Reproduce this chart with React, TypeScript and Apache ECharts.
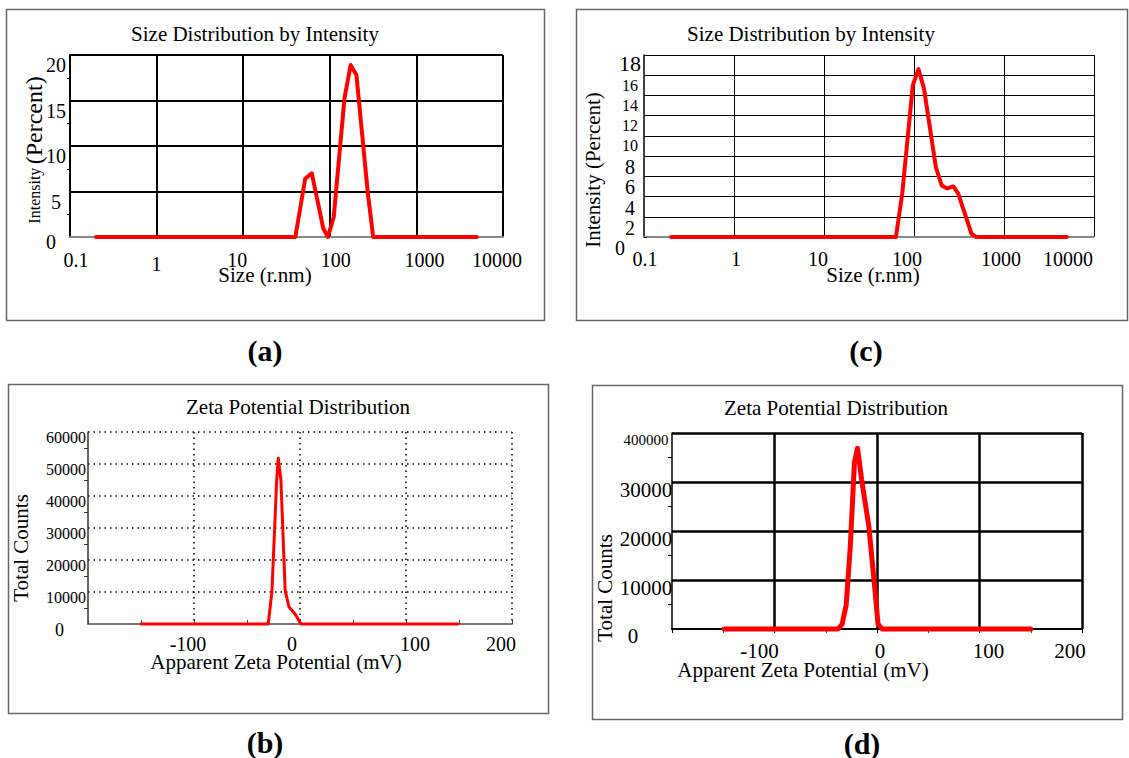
import React, { useEffect, useRef } from "react";
import * as echarts from "echarts";

// ---- data ----
const sizeTickLabels = ["0.1", "1", "10", "100", "1000", "10000"];

const sizeA_x = [0.2, 40, 52, 62, 84, 95, 111, 148, 174, 203, 275, 317, 5000];
const sizeA_y = [0, 0, 6.4, 7.0, 0.95, 0, 2.2, 15.3, 18.9, 17.8, 4.8, 0, 0];
const sizeAYTicks = ["0", "5", "10", "15", "20"];

const sizeC_x = [0.2, 63, 74, 97, 112, 129, 175, 203, 234, 274, 310, 436, 489, 5000];
const sizeC_y = [0, 0, 4.3, 15.0, 16.6, 14.7, 6.9, 5.1, 4.8, 5.0, 4.3, 0.3, 0, 0];
const sizeCYTicks = ["0", "2", "4", "6", "8", "10", "12", "14", "16", "18"];

const zetaB_x = [-150, -30, -26.5, -22, -20.5, -18, -14, -10.5, -4, 1, 149];
const zetaB_y = [0, 0, 10000, 45000, 51800, 45000, 10500, 5400, 2800, 0, 0];
const zetaBYTicks = ["0", "10000", "20000", "30000", "40000", "50000", "60000"];

const zetaD_x = [-149, -38, -34, -30, -26, -22, -19, -15, -8, -2, 1, 5, 150];
const zetaD_y = [0, 0, 1000, 5000, 17000, 34000, 36900, 30500, 21000, 8000, 1000, 0, 0];
const zetaDYTicks = ["0", "10000", "20000", "30000", "400000"];

const zetaXTicks = ["", "-100", "0", "100", "200"];

const FONT = "'Liberation Serif', 'Times New Roman', serif";

function pad(dx: number, dy: number) {
  return [dy, dx < 0 ? -2 * dx : 0, 0, dx > 0 ? 2 * dx : 0];
}

function pairs(xs: number[], ys: number[]) {
  return xs.map((x, i) => [x, ys[i]]);
}

function logIdx(v: number) {
  return Math.round(Math.log10(v)) + 1;
}

export default function App() {
  const ref = useRef<HTMLDivElement>(null);

  useEffect(() => {
    if (!ref.current) return;
    const chart = echarts.init(ref.current, undefined, { renderer: "svg" });

    const red = "#ff0000";

    const aShift = [6, 0, -6, 6, 8, -6];
    const aDy = [0, 4, 0, 0, 0, 0];
    const cShift = [1, 2, -6, -7, -3, -26];
    const bShift = [0, -6, -8, 9, -11];
    const dShift = [0, -15, 3, 9, -12];

    const richFrom = (shifts: number[], dys: number[] | null, fs: number) => {
      const r: any = {};
      shifts.forEach((s, i) => {
        r["k" + i] = { fontSize: fs, fontFamily: FONT, color: "#000", padding: pad(s, dys ? dys[i] : 0) };
      });
      return r;
    };

    const txt = (x: number, y: number, text: string, size: number, extra: any = {}) => ({
      type: "text",
      x,
      y,
      ...extra,
      style: { text, font: `${size}px ${FONT}`, fill: "#000", align: "center", verticalAlign: "middle" },
    });

    const option: any = {
      animation: false,
      backgroundColor: "#fff",
      grid: [
        { left: 70, top: 55, width: 433, height: 182 },
        { left: 644, top: 55, width: 450, height: 182 },
        { left: 88, top: 432, width: 424, height: 192 },
        { left: 672, top: 433, width: 410, height: 196 },
      ],
      xAxis: [
        {
          type: "log", logBase: 10, min: 0.1, max: 10000, gridIndex: 0,
          axisLine: { lineStyle: { color: "#888", width: 2 } },
          axisTick: { show: false },
          splitLine: { show: true, showMinLine: false, lineStyle: { color: "#000", width: 2 } },
          axisLabel: {
            margin: 13,
            formatter: (v: number) => `{k${logIdx(v)}|${sizeTickLabels[logIdx(v)]}}`,
            rich: richFrom(aShift, aDy, 20),
          },
        },
        {
          type: "log", logBase: 10, min: 0.1, max: 10000, gridIndex: 1,
          axisLine: { lineStyle: { color: "#888", width: 2 } },
          axisTick: { show: false },
          splitLine: { show: true, showMinLine: false, lineStyle: { color: "#000", width: 1 } },
          axisLabel: {
            margin: 12,
            formatter: (v: number) => `{k${logIdx(v)}|${sizeTickLabels[logIdx(v)]}}`,
            rich: richFrom(cShift, null, 20),
          },
        },
        {
          type: "value", min: -200, max: 200, interval: 100, gridIndex: 2,
          axisLine: { lineStyle: { color: "#777", width: 2 } },
          axisTick: { show: true, length: 4, inside: true, lineStyle: { color: "#444" } },
          minorTick: { show: true, splitNumber: 2, length: 4, lineStyle: { color: "#444" } },
          splitLine: { show: true, showMinLine: false, lineStyle: { color: "#000", width: 1.5, type: [1.5, 4] } },
          axisLabel: {
            margin: 10,
            formatter: (v: number) => {
              const i = Math.round((v + 200) / 100);
              return `{k${i}|${zetaXTicks[i]}}`;
            },
            rich: richFrom(bShift, null, 20),
          },
        },
        {
          type: "value", min: -200, max: 200, interval: 100, gridIndex: 3,
          axisLine: { lineStyle: { color: "#000", width: 2 } },
          axisTick: { show: true, length: 4, lineStyle: { color: "#000" } },
          minorTick: { show: true, splitNumber: 2, length: 4, lineStyle: { color: "#444" } },
          splitLine: { show: true, showMinLine: false, lineStyle: { color: "#000", width: 2.5 } },
          axisLabel: {
            margin: 11,
            formatter: (v: number) => {
              const i = Math.round((v + 200) / 100);
              return `{k${i}|${zetaXTicks[i]}}`;
            },
            rich: richFrom(dShift, null, 21),
          },
        },
      ],
      yAxis: [
        {
          type: "value", min: 0, max: 20, interval: 5, gridIndex: 0,
          axisLine: { show: true, onZero: false, lineStyle: { color: "#000", width: 2 } },
          axisTick: { show: false },
          minorTick: { show: true, splitNumber: 2, length: 3, lineStyle: { color: "#000" } },
          splitLine: { show: true, showMinLine: false, lineStyle: { color: "#000", width: 2 } },
          axisLabel: {
            align: "center", margin: 14,
            formatter: (v: number) => {
              const i = Math.round(v / 5);
              return i === 0 ? `{z|${sizeAYTicks[i]}}` : `{n|${sizeAYTicks[i]}}`;
            },
            rich: {
              n: { fontSize: 20, fontFamily: FONT, color: "#000", padding: [20, 0, 0, 0] },
              z: { fontSize: 20, fontFamily: FONT, color: "#000", padding: [10, 10, 0, 0] },
            },
          },
        },
        {
          type: "value", min: 0, max: 18, interval: 2, gridIndex: 1,
          axisLine: { show: true, onZero: false, lineStyle: { color: "#000", width: 1.5 } },
          axisTick: { show: true, length: 3, inside: true, lineStyle: { color: "#000" } },
          splitLine: { show: true, showMinLine: false, lineStyle: { color: "#000", width: 1 } },
          axisLabel: {
            align: "center", margin: 14,
            formatter: (v: number) => {
              const i = Math.round(v / 2);
              const t = sizeCYTicks[i];
              if (i === 0) return `{z|${t}}`;
              if (i === 9) return `{b|${t}}`;
              if (i >= 5) return `{m|${t}}`;
              return `{s|${t}}`;
            },
            rich: {
              b: { fontSize: 22, fontFamily: FONT, color: "#000", padding: [16, 0, 0, 0] },
              m: { fontSize: 16, fontFamily: FONT, color: "#000", padding: [20, 0, 0, 0] },
              s: { fontSize: 20, fontFamily: FONT, color: "#000", padding: [22, 0, 0, 0] },
              z: { fontSize: 20, fontFamily: FONT, color: "#000", padding: [22, 20, 0, 0] },
            },
          },
        },
        {
          type: "value", min: 0, max: 60000, interval: 10000, gridIndex: 2,
          axisLine: { show: true, onZero: false, lineStyle: { color: "#333", width: 1.5 } },
          axisTick: { show: false },
          minorTick: { show: true, splitNumber: 2, length: 4, lineStyle: { color: "#333" } },
          splitLine: { show: true, showMinLine: false, lineStyle: { color: "#000", width: 1.5, type: [1.5, 4] } },
          axisLabel: {
            align: "right", margin: 2,
            formatter: (v: number) => {
              const i = Math.round(v / 10000);
              return i === 0 ? `{z|${zetaBYTicks[i]}}` : `{n|${zetaBYTicks[i]}}`;
            },
            rich: {
              n: { fontSize: 16, fontFamily: FONT, color: "#000", padding: [10, 0, 0, 0] },
              z: { fontSize: 18, fontFamily: FONT, color: "#000", padding: [12, 22, 0, 0] },
            },
          },
        },
        {
          type: "value", min: 0, max: 40000, interval: 10000, gridIndex: 3,
          axisLine: { show: true, onZero: false, lineStyle: { color: "#000", width: 1.5 } },
          axisTick: { show: false },
          minorTick: { show: true, splitNumber: 2, length: 4, lineStyle: { color: "#000" } },
          splitLine: { show: true, showMinLine: false, lineStyle: { color: "#000", width: 2.5 } },
          axisLabel: {
            align: "center", margin: 26,
            formatter: (v: number) => {
              const i = Math.round(v / 10000);
              if (i === 0) return `{z|${zetaDYTicks[i]}}`;
              if (i === 4) return `{s|${zetaDYTicks[i]}}`;
              return `{n|${zetaDYTicks[i]}}`;
            },
            rich: {
              n: { fontSize: 21, fontFamily: FONT, color: "#000", padding: [16, 0, 0, 0] },
              s: { fontSize: 15, fontFamily: FONT, color: "#000", padding: [14, 0, 0, 0] },
              z: { fontSize: 21, fontFamily: FONT, color: "#000", padding: [14, 26, 0, 0] },
            },
          },
        },
      ],
      series: [
        {
          type: "line", xAxisIndex: 0, yAxisIndex: 0, data: pairs(sizeA_x, sizeA_y),
          showSymbol: false, symbol: "none", clip: false, z: 5,
          lineStyle: { color: red, width: 4, join: "round", cap: "round" },
        },
        {
          type: "line", xAxisIndex: 1, yAxisIndex: 1, data: pairs(sizeC_x, sizeC_y),
          showSymbol: false, symbol: "none", clip: false, z: 5,
          lineStyle: { color: red, width: 4, join: "round", cap: "round" },
        },
        {
          type: "line", xAxisIndex: 2, yAxisIndex: 2, data: pairs(zetaB_x, zetaB_y),
          showSymbol: false, symbol: "none", clip: false, z: 5,
          lineStyle: { color: red, width: 3, join: "round", cap: "round" },
        },
        {
          type: "line", xAxisIndex: 3, yAxisIndex: 3, data: pairs(zetaD_x, zetaD_y),
          showSymbol: false, symbol: "none", clip: false, z: 5,
          lineStyle: { color: red, width: 5, join: "round", cap: "round" },
        },
      ],
      graphic: [
        { type: "rect", shape: { x: 6.5, y: 9.5, width: 538, height: 311 }, style: { fill: "none", stroke: "#666", lineWidth: 1.5 }, z: 1 },
        { type: "rect", shape: { x: 576.5, y: 9.5, width: 551, height: 311 }, style: { fill: "none", stroke: "#666", lineWidth: 1.5 }, z: 1 },
        { type: "rect", shape: { x: 8.5, y: 384.5, width: 540, height: 329 }, style: { fill: "none", stroke: "#666", lineWidth: 1.5 }, z: 1 },
        { type: "rect", shape: { x: 592.5, y: 385.5, width: 530, height: 334 }, style: { fill: "none", stroke: "#666", lineWidth: 1.5 }, z: 1 },

        txt(255, 34, "Size Distribution by Intensity", 21),
        txt(811, 34, "Size Distribution by Intensity", 21),
        txt(298, 407, "Zeta Potential Distribution", 21),
        txt(836, 408, "Zeta Potential Distribution", 21),

        txt(265, 275, "Size (r.nm)", 21),
        txt(873, 275, "Size (r.nm)", 21),
        txt(276, 662, "Apparent Zeta Potential (mV)", 21),
        txt(803, 670, "Apparent Zeta Potential (mV)", 21),

        {
          type: "text", x: 34, y: 150, rotation: Math.PI / 2,
          style: {
            text: "{s|Intensity} {b|(Percent)}", align: "center", verticalAlign: "middle",
            rich: {
              s: { fontSize: 16, fontFamily: FONT, fill: "#000" },
              b: { fontSize: 24, fontFamily: FONT, fill: "#000" },
            },
          },
        },
        txt(593, 170, "Intensity (Percent)", 21, { rotation: Math.PI / 2 }),
        txt(21, 548, "Total Counts", 21, { rotation: Math.PI / 2 }),
        txt(605, 588, "Total Counts", 21, { rotation: Math.PI / 2 }),

        { type: "text", x: 265, y: 350, style: { text: "(a)", font: `bold 30px ${FONT}`, fill: "#000", align: "center", verticalAlign: "middle" } },
        { type: "text", x: 866, y: 350, style: { text: "(c)", font: `bold 30px ${FONT}`, fill: "#000", align: "center", verticalAlign: "middle" } },
        { type: "text", x: 265, y: 742, style: { text: "(b)", font: `bold 30px ${FONT}`, fill: "#000", align: "center", verticalAlign: "middle" } },
        { type: "text", x: 862, y: 743, style: { text: "(d)", font: `bold 30px ${FONT}`, fill: "#000", align: "center", verticalAlign: "middle" } },
      ],
    };

    chart.setOption(option);
    return () => chart.dispose();
  }, []);

  return (
    <div
      ref={ref}
      style={{ position: "fixed", left: 0, top: 0, width: 1129, height: 758, background: "#fff" }}
    />
  );
}
